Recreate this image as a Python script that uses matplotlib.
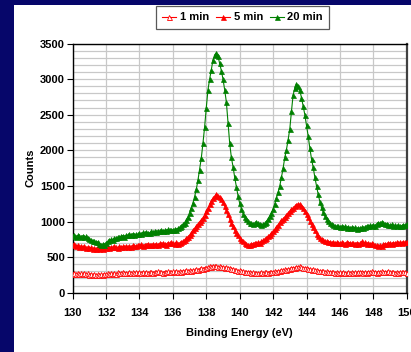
import numpy as np
import matplotlib
matplotlib.use("Agg")
import matplotlib.pyplot as plt
from matplotlib.patches import Rectangle
from matplotlib.ticker import MultipleLocator

# Binding energy axis: 130.0 .. 150.0 eV in 0.1 eV steps
energy_start = 130.0
energy_step = 0.1

# Counts for each acquisition time (one row per eV)
counts_1min = [
    268, 280, 262, 275, 258, 272, 266, 278, 260, 270,
    255, 268, 250, 262, 248, 258, 245, 262, 252, 266,
    258, 272, 262, 280, 268, 276, 262, 284, 272, 280,
    288, 274, 282, 270, 290, 278, 284, 272, 292, 280,
    286, 276, 294, 282, 290, 276, 288, 296, 282, 292,
    284, 298, 286, 292, 280, 296, 288, 300, 286, 294,
    298, 288, 304, 292, 302, 296, 308, 300, 312, 304,
    316, 305, 320, 312, 328, 318, 335, 345, 338, 352,
    348, 360, 372, 365, 380, 368, 375, 362, 370, 358,
    364, 352, 358, 345, 340, 330, 336, 322, 318, 308,
    312, 298, 302, 290, 296, 284, 292, 278, 286, 275,
    282, 270, 278, 286, 272, 284, 292, 280, 296, 288,
    294, 302, 296, 310, 305, 318, 312, 326, 322, 336,
    332, 345, 352, 348, 362, 358, 370, 356, 350, 344,
    348, 336, 330, 322, 326, 312, 318, 305, 310, 300,
    304, 296, 300, 290, 296, 286, 292, 282, 290, 280,
    286, 278, 290, 280, 272, 286, 276, 290, 282, 288,
    276, 292, 284, 296, 282, 290, 278, 294, 286, 300,
    288, 296, 282, 294, 290, 300, 286, 296, 288, 302,
    292, 284, 296, 282, 290, 278, 292, 284, 296, 286,
    282,
]

counts_5min = [
    672, 690, 655, 668, 648, 660, 642, 651, 630, 644,
    622, 635, 615, 628, 612, 638, 620, 632, 610, 636,
    625, 642, 630, 648, 636, 652, 640, 628, 655, 645,
    650, 638, 662, 645, 656, 640, 668, 652, 660, 672,
    665, 680, 660, 675, 668, 690, 672, 665, 688, 676,
    684, 670, 695, 680, 702, 688, 676, 705, 692, 710,
    698, 685, 708, 690, 700, 712, 725, 742, 768, 785,
    810, 845, 880, 905, 935, 965, 998, 1020, 1055, 1095,
    1150, 1190, 1245, 1290, 1330, 1355, 1385, 1365, 1345, 1320,
    1275, 1220, 1160, 1100, 1040, 985, 930, 880, 840, 805,
    770, 745, 720, 700, 682, 672, 668, 680, 690, 702,
    694, 712, 705, 720, 738, 755, 770, 790, 812, 835,
    860, 890, 920, 955, 990, 1015, 1040, 1065, 1090, 1120,
    1150, 1170, 1190, 1215, 1235, 1250, 1240, 1215, 1190, 1150,
    1110, 1060, 1010, 965, 920, 875, 830, 800, 770, 752,
    735, 728, 720, 712, 718, 705, 712, 698, 708, 702,
    694, 710, 700, 688, 712, 696, 705, 692, 700, 690,
    702, 686, 698, 720, 694, 708, 690, 702, 685, 695,
    680, 672, 665, 658, 670, 662, 678, 690, 682, 695,
    700, 688, 705, 694, 710, 698, 712, 702, 715, 706,
    712,
]

counts_20min = [
    800, 812, 785, 806, 792, 788, 801, 776, 790, 768,
    752, 744, 731, 722, 708, 716, 690, 668, 684, 676,
    705, 722, 735, 748, 741, 770, 762, 783, 776, 795,
    801, 788, 810, 806, 822, 812, 830, 815, 826, 818,
    834, 828, 846, 838, 852, 843, 838, 860, 848, 866,
    858, 872, 864, 880, 868, 876, 871, 889, 878, 884,
    882, 894, 886, 905, 920, 938, 962, 985, 1020, 1068,
    1125, 1190, 1260, 1350, 1450, 1580, 1730, 1890, 2100, 2330,
    2600, 2850, 3000, 3130, 3270, 3340, 3370, 3320, 3220, 3120,
    3000, 2850, 2680, 2380, 2100, 1900, 1770, 1620, 1490, 1360,
    1255, 1180, 1110, 1067, 1030, 1005, 985, 975, 968, 980,
    992, 978, 962, 955, 966, 975, 1000, 1040, 1080, 1120,
    1180, 1250, 1330, 1410, 1500, 1620, 1750, 1900, 2010, 2150,
    2300, 2550, 2780, 2870, 2930, 2900, 2840, 2740, 2620, 2500,
    2350, 2200, 2030, 1880, 1760, 1620, 1500, 1380, 1280, 1200,
    1130, 1080, 1040, 1005, 982, 962, 950, 940, 935, 930,
    925, 938, 920, 932, 915, 928, 905, 922, 910, 918,
    898, 912, 903, 920, 908, 925, 940, 932, 948, 935,
    955, 942, 968, 985, 972, 995, 978, 960, 970, 952,
    945, 958, 940, 952, 935, 948, 930, 942, 955, 946,
    962,
]

series_labels = ["1 min", "5 min", "20 min"]
x_ticks = [130, 132, 134, 136, 138, 140, 142, 144, 146, 148, 150]
y_ticks = [0, 500, 1000, 1500, 2000, 2500, 3000, 3500]

energy = energy_start + energy_step * np.arange(len(counts_1min))

plt.rcParams["font.family"] = ["Liberation Sans", "DejaVu Sans"]

W, H = 411, 352
fig = plt.figure(figsize=(W / 100, H / 100), dpi=100)
fig.patch.set_facecolor("#06066a")

# white chart panel over the navy slide background
fig.add_artist(Rectangle((14 / W, 0), 1 - 14 / W, 1 - 5 / H,
                         transform=fig.transFigure, facecolor="white",
                         edgecolor="none", zorder=0))

ax = fig.add_axes([72.7 / W, 1 - 292.7 / H, (406.7 - 72.7) / W, (292.7 - 43.5) / H])
ax.set_facecolor("white")

red = "#ff0000"
green = "#008000"
ms = 3.6
ax.plot(energy, counts_1min, color=red, lw=0.8, marker="^", ms=ms,
        mfc="white", mec=red, mew=0.6, label=series_labels[0], zorder=3)
ax.plot(energy, counts_5min, color=red, lw=0.8, marker="^", ms=ms,
        mfc=red, mec=red, mew=0.5, label=series_labels[1], zorder=3)
ax.plot(energy, counts_20min, color=green, lw=0.8, marker="^", ms=ms,
        mfc=green, mec=green, mew=0.5, label=series_labels[2], zorder=3)

ax.set_xlim(130, 150)
ax.set_ylim(0, 3500)
ax.set_xticks(x_ticks)
ax.set_yticks(y_ticks)
ax.yaxis.set_minor_locator(MultipleLocator(100))

ax.grid(which="major", axis="x", color="#c8c8c8", lw=0.9)
ax.grid(which="both", axis="y", color="#c8c8c8", lw=0.9)
ax.set_axisbelow(True)

for side in ["left", "bottom", "top", "right"]:
    ax.spines[side].set_color("black")
    ax.spines[side].set_linewidth(1.0)
ax.spines["right"].set_color("#404040")
ax.spines["right"].set_linewidth(1.6)

ax.tick_params(axis="both", which="major", direction="out", length=4,
               width=0.8, color="black", labelsize=8)
ax.tick_params(axis="y", which="minor", length=0)
ax.tick_params(axis="y", pad=1.5)
ax.tick_params(axis="x", pad=7)
for lbl in ax.get_xticklabels() + ax.get_yticklabels():
    lbl.set_fontweight("bold")

ax.set_xlabel("Binding Energy (eV)", fontsize=8, fontweight="bold", labelpad=7)
ax.set_ylabel("Counts", fontsize=8, fontweight="bold", labelpad=3)

leg = fig.legend(loc="center", bbox_to_anchor=(242.5 / W, 1 - 17.5 / H),
                 ncol=3, frameon=True, fancybox=False, shadow=False,
                 prop={"size": 8, "weight": "bold"}, handlelength=1.3,
                 handletextpad=0.3, columnspacing=0.6, borderpad=0.55,
                 markerscale=1.0)
leg.get_frame().set_edgecolor("#303030")
leg.get_frame().set_linewidth(0.9)

fig.savefig("out.png", dpi=100, facecolor=fig.get_facecolor())
